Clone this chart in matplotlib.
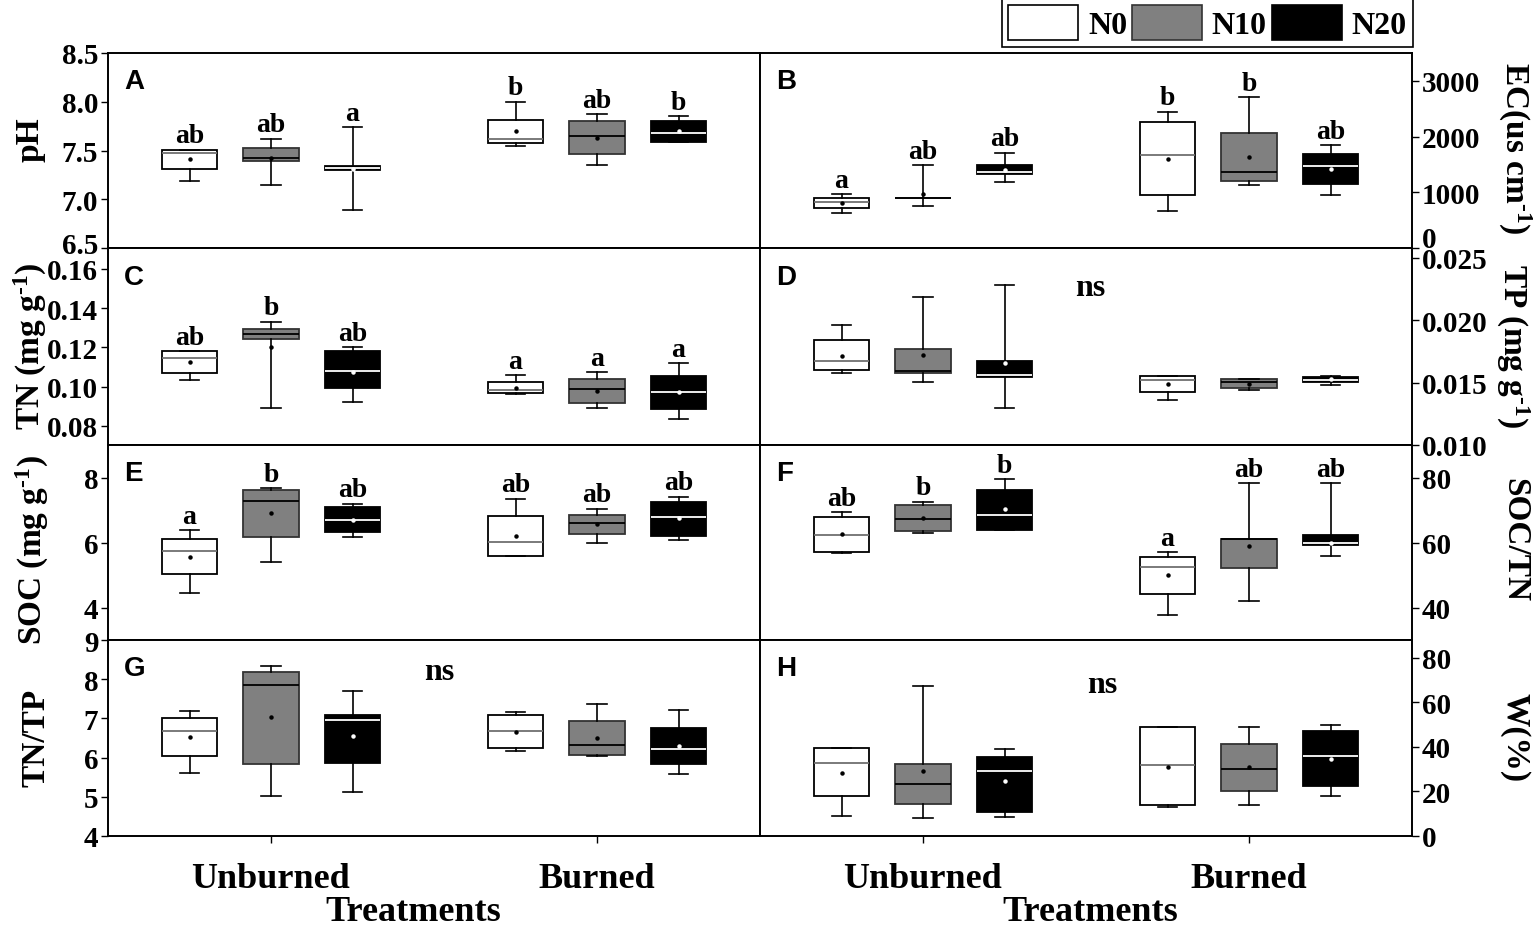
import matplotlib
matplotlib.use('Agg')
import matplotlib.pyplot as plt
from matplotlib.patches import Patch
from matplotlib.transforms import ScaledTranslation

plt.rcParams['font.family'] = ['Liberation Serif', 'DejaVu Serif']
plt.rcParams['font.weight'] = 'bold'
plt.rcParams['mathtext.fontset'] = 'custom'
plt.rcParams['mathtext.rm'] = 'Liberation Serif:bold'
plt.rcParams['mathtext.it'] = 'Liberation Serif:bold'
plt.rcParams['mathtext.bf'] = 'Liberation Serif:bold'

groups = ['Unburned', 'Burned']
treatments = ['N0', 'N10', 'N20']

# each row: whisker low, Q1, median, Q3, whisker high, mean
# rows: Unburned N0, N10, N20, Burned N0, N10, N20
ph_stats = [
    [7.19, 7.31, 7.47, 7.51, 7.51, 7.41],
    [7.15, 7.39, 7.42, 7.53, 7.62, 7.42],
    [6.89, 7.30, 7.32, 7.34, 7.74, 7.31],
    [7.55, 7.58, 7.62, 7.81, 8.00, 7.70],
    [7.35, 7.46, 7.65, 7.80, 7.87, 7.63],
    [7.59, 7.59, 7.68, 7.80, 7.85, 7.70],
]
ph_letters = ['ab', 'ab', 'a', 'b', 'ab', 'b']

ec_stats = [
    [627, 710, 822, 894, 965, 805],
    [746, 890, 895, 900, 1486, 977],
    [1179, 1321, 1360, 1486, 1712, 1404],
    [657, 947, 1664, 2259, 2448, 1600],
    [1130, 1209, 1369, 2068, 2704, 1641],
    [952, 1148, 1463, 1695, 1842, 1415],
]
ec_letters = ['a', 'ab', 'ab', 'b', 'b', 'ab']

tn_stats = [
    [0.1034, 0.1072, 0.1148, 0.1182, 0.1182, 0.1128],
    [0.0892, 0.1243, 0.1267, 0.1293, 0.1332, 0.1203],
    [0.0922, 0.0992, 0.1082, 0.1182, 0.1201, 0.1074],
    [0.0965, 0.0970, 0.0985, 0.1025, 0.1060, 0.0995],
    [0.0890, 0.0917, 0.0990, 0.1040, 0.1075, 0.0980],
    [0.0836, 0.0887, 0.0975, 0.1055, 0.1120, 0.0973],
]
tn_letters = ['ab', 'b', 'ab', 'a', 'a', 'a']

tp_stats = [
    [0.01576, 0.01600, 0.01670, 0.01839, 0.01964, 0.01716],
    [0.01508, 0.01575, 0.01590, 0.01767, 0.02187, 0.01724],
    [0.01293, 0.01546, 0.01562, 0.01675, 0.02282, 0.01661],
    [0.01360, 0.01425, 0.01520, 0.01554, 0.01554, 0.01490],
    [0.01440, 0.01457, 0.01505, 0.01530, 0.01530, 0.01490],
    [0.01481, 0.01505, 0.01525, 0.01546, 0.01554, 0.01530],
]

soc_stats = [
    [4.44, 5.02, 5.73, 6.12, 6.38, 5.56],
    [5.40, 6.18, 7.27, 7.62, 7.68, 6.91],
    [6.16, 6.31, 6.70, 7.08, 7.20, 6.70],
    [5.57, 5.60, 6.03, 6.83, 7.35, 6.21],
    [6.00, 6.25, 6.61, 6.86, 7.04, 6.58],
    [6.07, 6.19, 6.77, 7.26, 7.41, 6.74],
]
soc_letters = ['a', 'b', 'ab', 'ab', 'ab', 'ab']

soctn_stats = [
    [56.9, 57.2, 62.3, 68.0, 69.3, 62.5],
    [62.9, 63.4, 67.3, 71.4, 72.6, 67.4],
    [63.8, 63.8, 68.5, 76.3, 79.5, 70.2],
    [37.8, 44.3, 52.4, 55.6, 57.0, 49.9],
    [42.0, 52.2, 61.0, 61.2, 78.2, 58.8],
    [55.9, 59.1, 60.0, 62.3, 78.3, 60.0],
]
soctn_letters = ['ab', 'b', 'b', 'a', 'ab', 'ab']

tntp_stats = [
    [5.60, 6.05, 6.68, 7.02, 7.19, 6.53],
    [5.01, 5.84, 7.84, 8.19, 8.34, 7.03],
    [5.13, 5.86, 6.97, 7.08, 7.70, 6.55],
    [6.16, 6.24, 6.67, 7.08, 7.16, 6.65],
    [6.03, 6.06, 6.31, 6.93, 7.36, 6.50],
    [5.58, 5.83, 6.22, 6.75, 7.21, 6.30],
]

w_stats = [
    [9.2, 17.8, 32.7, 39.4, 39.5, 28.4],
    [8.0, 14.2, 23.4, 32.5, 67.3, 29.1],
    [8.6, 11.0, 29.4, 35.4, 39.1, 24.6],
    [12.8, 14.0, 31.7, 49.0, 49.0, 31.1],
    [13.9, 20.1, 30.3, 41.3, 49.0, 30.8],
    [17.8, 22.5, 36.1, 47.2, 49.8, 34.7],
]

positions = [0, 1, 2, 4, 5, 6]
fills = ['white', '#808080', 'black']
edges = ['black', '#333333', 'black']
med_colors = ['#707070', 'black', 'white']
mean_colors = ['black', 'black', 'white']

W, H = 1535, 928
fig = plt.figure(figsize=(W / 100, H / 100), dpi=100)

def fx(px):
    return px / W

def fy(py):
    return 1 - py / H

rows = [(54, 249), (249, 446), (446, 641), (641, 837)]
cols = [(108, 760), (760, 1412)]

panels = [
    # (stats, letters, ylim, ticks, fmt, label, panel letter, col, row, ns)
    (ph_stats, ph_letters, (6.5, 8.5), [6.5, 7.0, 7.5, 8.0, 8.5], '%.1f', 'pH', 'A', 0, 0, None),
    (ec_stats, ec_letters, (0, 3500), [0, 1000, 2000, 3000], '%d', r'EC(us cm$^{\text{-1}}$)', 'B', 1, 0, None),
    (tn_stats, tn_letters, (0.0703, 0.1707), [0.08, 0.10, 0.12, 0.14, 0.16], '%.2f', r'TN (mg g$^{\text{-1}}$)', 'C', 0, 1, None),
    (tp_stats, None, (0.010, 0.0258), [0.010, 0.015, 0.020, 0.025], '%.3f', r'TP (mg g$^{\text{-1}}$)', 'D', 1, 1, (3.05, 0.0226)),
    (soc_stats, soc_letters, (3, 9), [4, 6, 8], '%d', r'SOC (mg g$^{\text{-1}}$)', 'E', 0, 2, None),
    (soctn_stats, soctn_letters, (30, 90), [40, 60, 80], '%d', 'SOC/TN', 'F', 1, 2, None),
    (tntp_stats, None, (4, 9), [4, 5, 6, 7, 8, 9], '%d', 'TN/TP', 'G', 0, 3, (3.07, 8.2)),
    (w_stats, None, (0, 88), [0, 20, 40, 60, 80], '%d', 'W(%)', 'H', 1, 3, (3.2, 68)),
]

ylabel_pos = {
    'A': (30, 140), 'C': (30, 346), 'E': (32, 550), 'G': (36, 738),
    'B': (1515, 148), 'D': (1513, 346), 'F': (1515, 540), 'H': (1515, 738),
}

for stats, letters, ylim, ticks, fmt, label, plet, c, r, ns in panels:
    x0, x1 = cols[c]
    y0, y1 = rows[r]
    ax = fig.add_axes([fx(x0), fy(y1), fx(x1 - x0), (y1 - y0) / H])
    bstats = []
    for s in stats:
        bstats.append(dict(whislo=s[0], q1=s[1], med=s[2], q3=s[3], whishi=s[4], mean=s[5], fliers=[]))
    bp = ax.bxp(bstats, positions=positions, widths=0.68, patch_artist=True,
                showmeans=True, showfliers=False, capwidths=0.24)
    for i in range(6):
        k = i % 3
        bp['boxes'][i].set_facecolor(fills[k])
        bp['boxes'][i].set_edgecolor(edges[k])
        bp['boxes'][i].set_linewidth(1.3)
        bp['medians'][i].set_color(med_colors[k])
        bp['medians'][i].set_linewidth(1.3)
        for wline in bp['whiskers'][2 * i:2 * i + 2]:
            wline.set_color('black')
            wline.set_linewidth(1.2)
        for cap in bp['caps'][2 * i:2 * i + 2]:
            cap.set_color('black')
            cap.set_linewidth(1.2)
        m = bp['means'][i]
        m.set_marker('o')
        m.set_markersize(2.2)
        m.set_markerfacecolor(mean_colors[k])
        m.set_markeredgecolor(mean_colors[k])
    ax.set_xlim(-1, 7)
    ax.set_ylim(*ylim)
    ax.set_yticks(ticks)
    ax.set_yticklabels([fmt % t for t in ticks])
    if c == 0:
        ax.tick_params(axis='y', direction='out', length=5, width=1, labelsize=21, left=True, right=False,
                       labelleft=True, labelright=False, pad=2)
    else:
        ax.tick_params(axis='y', direction='out', length=5, width=1, labelsize=21, left=False, right=True,
                       labelleft=False, labelright=True, pad=2)
    if plet in ('A', 'B'):
        lab0 = ax.get_yticklabels()[0]
        shift = 4 if plet == 'A' else 8
        lab0.set_transform(lab0.get_transform() + ScaledTranslation(0, shift / 72, fig.dpi_scale_trans))
    if r == 3:
        ax.set_xticks([1, 5])
        ax.set_xticklabels(groups, fontsize=26)
        ax.tick_params(axis='x', direction='out', length=5, width=1, pad=14)
    else:
        ax.set_xticks([])
    for sp in ax.spines.values():
        sp.set_linewidth(1.4)
    if letters is not None:
        for p, s, lt in zip(positions, stats, letters):
            ax.annotate(lt, (p, s[4]), xytext=(0, 1), textcoords='offset points',
                        ha='center', va='bottom', fontsize=20, fontweight='bold')
    if ns is not None:
        ax.text(ns[0], ns[1], 'ns', ha='center', va='center', fontsize=23, fontweight='bold')
    ax.text(0.025, 0.855, plet, transform=ax.transAxes, ha='left', va='center',
            fontsize=20, fontweight='bold', family=['Liberation Sans', 'DejaVu Sans'])
    lx, ly = ylabel_pos[plet]
    rot = 90 if c == 0 else -90
    fig.text(fx(lx), fy(ly), label, rotation=rot, ha='center', va='center', fontsize=24, fontweight='bold')

fig.text(fx(413), fy(913), 'Treatments', ha='center', va='center', fontsize=26, fontweight='bold')
fig.text(fx(1090), fy(913), 'Treatments', ha='center', va='center', fontsize=26, fontweight='bold')

handles = [Patch(facecolor=fills[k], edgecolor=edges[k], linewidth=1.2) for k in range(3)]
leg = fig.legend(handles, treatments, loc='upper right', bbox_to_anchor=(fx(1413), 1.0), ncol=3,
                 fontsize=23, frameon=True, fancybox=False, edgecolor='black', framealpha=1,
                 handlelength=2.2, handleheight=1.3, handletextpad=0.3, columnspacing=0.15,
                 borderpad=0.2, borderaxespad=0.0)
leg.get_frame().set_linewidth(1.2)
for t in leg.get_texts():
    t.set_fontweight('bold')

fig.savefig('out.png', dpi=100)
